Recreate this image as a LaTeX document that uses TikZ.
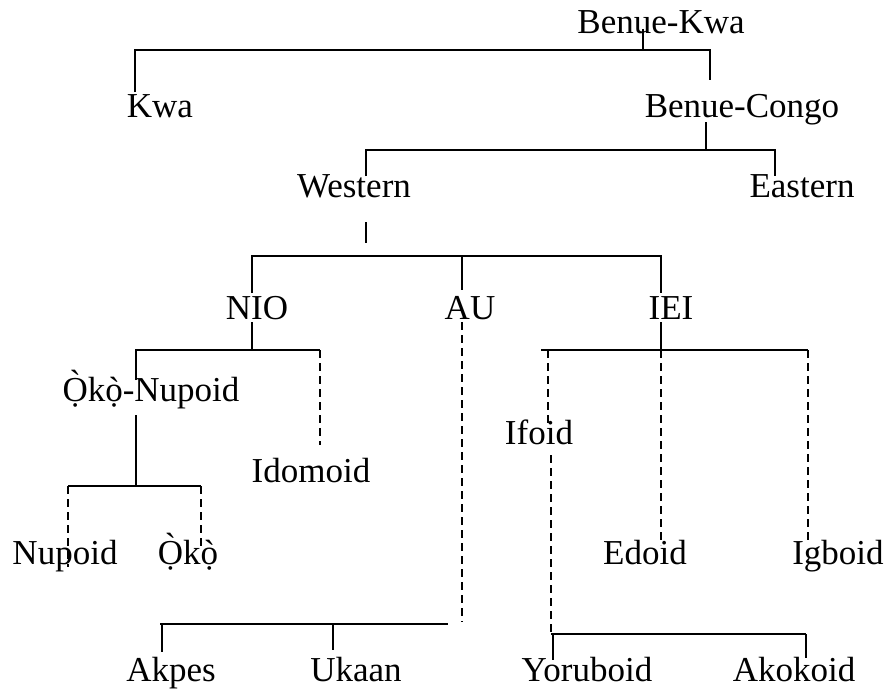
\documentclass[tikz,border=0pt]{standalone}
\usepackage{fontspec}
\setmainfont{Liberation Serif}
% letter with a dot below and a centred grave accent on top
\newcommand\dotgrave[2][0pt]{\leavevmode\ooalign{#2\cr\hidewidth\raisebox{#1}{ˋ}\hidewidth\cr}}
\newcommand\Oko{\dotgrave[7pt]{Ọ}k\dotgrave{ọ}}
\begin{document}
\begin{tikzpicture}[x=1pt,y=-1pt,
  lbl/.style={anchor=base,inner sep=0pt,font=\fontsize{35}{42}\selectfont},
  br/.style={line width=1.6pt},
  dsh/.style={line width=1.6pt,dash pattern=on 8pt off 5pt}]
\useasboundingbox (0,0) rectangle (890,693);

% labels
\node[lbl] (bk)   at (661,34)  {Benue-Kwa};
\node[lbl] (kwa)  at (160,117) {Kwa};
\node[lbl] (bc)   at (742,117) {Benue-Congo};
\node[lbl] (west) at (354,197) {Western};
\node[lbl] (east) at (802,197) {Eastern};
\node[lbl] (nio)  at (257,319) {NIO};
\node[lbl] (au)   at (470,319) {AU};
\node[lbl] (iei)  at (671,319) {IEI};
\node[lbl] (okon) at (151,401) {\Oko-Nupoid};
\node[lbl] (ifo)  at (539,444) {Ifoid};
\node[lbl] (ido)  at (311,482) {Idomoid};
\node[lbl] (nup)  at (65,564)  {Nupoid};
\node[lbl] (oko)  at (188,564) {\Oko};
\node[lbl] (edo)  at (645,564) {Edoid};
\node[lbl] (igb)  at (838,564) {Igboid};
\node[lbl] (akp)  at (171,681) {Akpes};
\node[lbl] (uka)  at (356,681) {Ukaan};
\node[lbl] (yor)  at (587,681) {Yoruboid};
\node[lbl] (ako)  at (794,681) {Akokoid};

% Benue-Kwa
\coordinate (bkS) at (643,29);  \coordinate (bkJ) at (643,50);
\coordinate (kwaJ) at (135,50); \coordinate (kwaT) at (135,92);
\coordinate (bcJ) at (710,50);  \coordinate (bcT) at (710,80);
\draw[br] (bkS) -- (bkJ);
\draw[br] (kwaT) -- (kwaJ) -- (bcJ) -- (bcT);

% Benue-Congo
\coordinate (bcS) at (706,122); \coordinate (bcB) at (706,150);
\coordinate (westJ) at (366,150); \coordinate (westT) at (366,176);
\coordinate (eastJ) at (775,150); \coordinate (eastT) at (775,176);
\draw[br] (bcS) -- (bcB);
\draw[br] (westT) -- (westJ) -- (eastJ) -- (eastT);

% Western
\coordinate (westS) at (366,222); \coordinate (westB) at (366,243);
\coordinate (nioJ) at (252,256); \coordinate (nioT) at (252,293);
\coordinate (auJ)  at (462,256); \coordinate (auT)  at (462,290);
\coordinate (ieiJ) at (661,256); \coordinate (ieiT) at (661,293);
\draw[br] (westS) -- (westB);
\draw[br] (nioT) -- (nioJ) -- (ieiJ) -- (ieiT);
\draw[br] (auJ) -- (auT);

% NIO
\coordinate (nioS) at (252,322); \coordinate (nioB) at (252,350);
\coordinate (okonJ) at (136,350); \coordinate (okonT) at (136,380);
\coordinate (idoJ) at (320,350); \coordinate (idoT) at (320,445);
\draw[br] (nioS) -- (nioB);
\draw[br] (okonT) -- (okonJ) -- (idoJ);
\draw[dsh] (idoJ) -- (idoT);

% Oko-Nupoid
\coordinate (okonS) at (136,415); \coordinate (okonB) at (136,486);
\coordinate (nupJ) at (68,486);  \coordinate (nupT) at (68,567);
\coordinate (okoJ) at (201,486); \coordinate (okoT) at (201,548);
\draw[br] (okonS) -- (okonB);
\draw[br] (nupJ) -- (okoJ);
\draw[dsh] (nupJ) -- (nupT);
\draw[dsh] (okoJ) -- (okoT);

% AU
\coordinate (auS) at (462,322); \coordinate (auB) at (462,622);
\coordinate (akpJ) at (162,624); \coordinate (akpT) at (162,652);
\coordinate (ukaJ) at (333,624); \coordinate (ukaT) at (333,650);
\coordinate (barL) at (160,624); \coordinate (barR) at (448,624);
\draw[dsh] (auS) -- (auB);
\draw[br] (barL) -- (barR);
\draw[br] (akpJ) -- (akpT);
\draw[br] (ukaJ) -- (ukaT);

% IEI
\coordinate (ieiS) at (661,322); \coordinate (ieiB) at (661,350);
\coordinate (ifoJ) at (548,350); \coordinate (ifoT) at (548,425);
\coordinate (ieiL) at (541,350);
\coordinate (edoT) at (661,545);
\coordinate (igbJ) at (808,350); \coordinate (igbT) at (808,540);
\draw[br] (ieiS) -- (ieiB);
\draw[br] (ieiL) -- (igbJ);
\draw[dsh] (ifoJ) -- (ifoT);
\draw[dsh] (ieiB) -- (edoT);
\draw[dsh] (igbJ) -- (igbT);

% Ifoid
\coordinate (ifoS) at (551,455); \coordinate (ifoB) at (551,634);
\coordinate (yorJ) at (553,634); \coordinate (yorT) at (553,660);
\coordinate (akoJ) at (806,634); \coordinate (akoT) at (806,658);
\draw[dsh] (ifoS) -- (ifoB);
\draw[br] (ifoB) -- (akoJ);
\draw[br] (yorJ) -- (yorT);
\draw[br] (akoJ) -- (akoT);
\end{tikzpicture}
\end{document}
